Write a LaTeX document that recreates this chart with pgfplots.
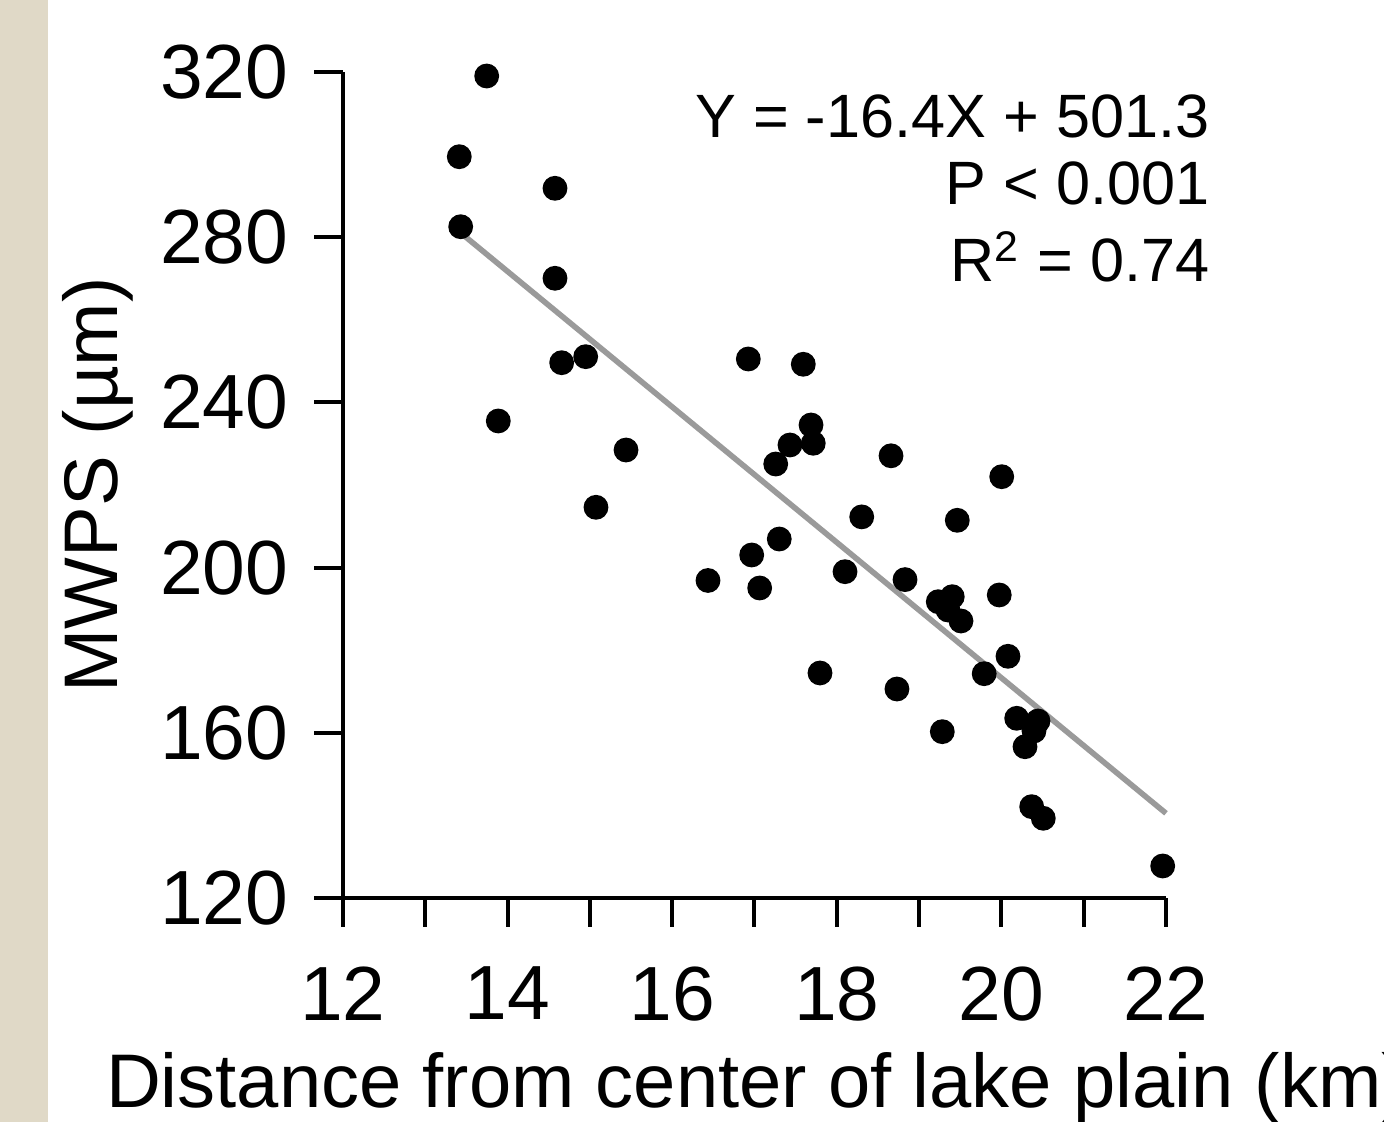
\documentclass[border=0pt]{standalone}
\usepackage{fontspec}
\setmainfont{Liberation Sans}
\usepackage{pgfplots}
\pgfplotsset{compat=1.18}
\definecolor{beige}{HTML}{E0D9C7}
\definecolor{fitgray}{HTML}{9A9A9A}
\newcommand{\tickfont}{\fontsize{19.2}{23}\selectfont}
\newcommand{\labfont}{\fontsize{19}{23}\selectfont}
\newcommand{\annfont}{\fontsize{15.3}{19}\selectfont}
\begin{document}
\begin{tikzpicture}
\fill[beige] (-85.75pt,-56pt) rectangle (-73.75pt,224.5pt);
\begin{axis}[
  at={(0,0)}, anchor=south west,
  scale only axis, width=205.75pt, height=206.5pt,
  xmin=12, xmax=22, ymin=120, ymax=320,
  enlargelimits=false, clip=false,
  axis x line=bottom, axis y line=left,
  axis line style={-, line width=1pt, black},
  every tick/.style={black, line width=1pt},
  tick align=outside,
  major tick length=7.2pt, minor tick length=7.2pt,
  xtick={12,14,...,22}, minor xtick={13,15,...,21},
  ytick={120,160,...,320},
  /pgf/number format/assume math mode=true,
  xticklabel style={font=\tickfont, anchor=north, inner sep=0pt, yshift=-9.75pt},
  yticklabel style={font=\tickfont, anchor=east, inner sep=0pt, xshift=-6.25pt},
  xlabel={Distance from center of lake plain (km)},
  ylabel={MWPS (µm)},
  every axis x label/.style={at={(axis description cs:0.5,0)}, anchor=base, yshift=-52.5pt, xshift=0.5pt, font=\labfont, inner sep=0pt},
  every axis y label/.style={at={(axis description cs:0,0.5)}, xshift=-56.25pt, rotate=90, anchor=base, font=\labfont, inner sep=0pt},
]
\addplot[only marks, mark=*, mark size=2.9pt, black, mark options={fill=black, draw=black}] coordinates {
(13.746,319.03) (13.413,299.49) (13.430,282.54) (14.576,291.84) (14.576,270.05)
(14.657,249.61) (14.949,251.07) (13.887,235.50) (15.439,228.47) (15.074,214.60)
(16.435,196.88) (16.925,250.51) (17.593,249.23) (17.687,234.53) (17.714,230.10)
(17.431,229.69) (17.258,225.08) (17.301,206.92) (16.966,203.05) (17.063,195.06)
(17.796,174.48) (18.100,199.01) (18.303,212.28) (18.659,227.07) (18.829,197.09)
(18.731,170.60) (19.233,191.74) (19.403,192.95) (19.351,189.73) (19.509,187.07)
(19.464,211.45) (19.282,160.27) (20.004,222.01) (19.974,193.37) (20.080,178.52)
(19.791,174.31) (20.186,163.51) (20.445,162.86) (20.396,160.44) (20.287,156.63)
(20.368,142.11) (20.509,139.30) (21.960,127.75)
};
\addplot[fitgray, line width=1.4pt, no marks] coordinates {(13.43,281.05) (22,140.5)};
\node[anchor=base east, font=\annfont, inner sep=0pt] at (rel axis cs:1.0535,0.9213) {Y = -16.4X + 501.3};
\node[anchor=base east, font=\annfont, inner sep=0pt] at (rel axis cs:1.0535,0.8390) {P < 0.001};
\node[anchor=base east, font=\annfont, inner sep=0pt] at (rel axis cs:1.0535,0.7458) {R\textsuperscript{2} = 0.74};
\end{axis}
\pgfresetboundingbox
\useasboundingbox (-85.75pt,-56pt) rectangle (260.25pt,224.5pt);
\end{tikzpicture}
\end{document}
